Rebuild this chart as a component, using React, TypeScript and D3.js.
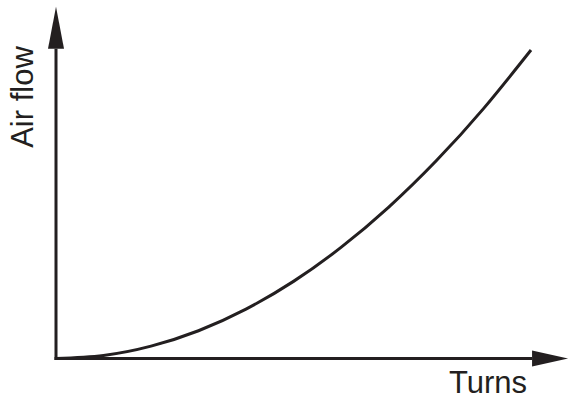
import React from 'react';
import * as d3 from 'd3';

// values
const turns = [0, 1, 2, 3, 4, 5, 6, 7, 8, 9, 10];
const airFlow = [0, 1, 4, 9, 16, 25, 36, 49, 64, 81, 100];
const xAxisEnd = 10.78;
const yAxisEnd = 114;

const W = 570;
const H = 400;
const ink = '#231f20';
const font = '"Liberation Sans", Arial, Helvetica, sans-serif';

const App: React.FC = () => {
  const x = d3.scaleLinear().domain([0, 10]).range([56, 531]);
  const y = d3.scaleLinear().domain([0, 100]).range([358.5, 50]);

  const line = d3
    .line<number>()
    .x((_d, i) => x(turns[i]))
    .y((d) => y(d))
    .curve(d3.curveNatural);

  const x0 = x(0);
  const y0 = y(0);
  const xTip = x(xAxisEnd);
  const yTip = y(yAxisEnd);
  const xArrowLen = 36;
  const yArrowLen = 42;
  const half = 8;

  return (
    <svg
      width={W}
      height={H}
      style={{ position: 'absolute', left: 0, top: 0, background: '#fff' }}
    >
      <path d={line(airFlow) ?? ''} fill="none" stroke={ink} strokeWidth={3} />
      {/* y axis */}
      <line x1={x0} y1={y0 + 1.5} x2={x0} y2={yTip + yArrowLen} stroke={ink} strokeWidth={3} />
      <polygon
        points={`${x0},${yTip} ${x0 - half},${yTip + yArrowLen} ${x0 + half},${yTip + yArrowLen}`}
        fill={ink}
      />
      {/* x axis */}
      <line x1={x0 - 1.5} y1={y0} x2={xTip - xArrowLen} y2={y0} stroke={ink} strokeWidth={3} />
      <polygon
        points={`${xTip},${y0} ${xTip - xArrowLen},${y0 - half} ${xTip - xArrowLen},${y0 + half}`}
        fill={ink}
      />
      <text
        transform={`translate(33, 97) rotate(-90)`}
        textAnchor="middle"
        fontFamily={font}
        fontSize={31}
        fill={ink}
      >
        Air flow
      </text>
      <text x={527} y={393} textAnchor="end" fontFamily={font} fontSize={31} fill={ink}>
        Turns
      </text>
    </svg>
  );
};

export default App;
